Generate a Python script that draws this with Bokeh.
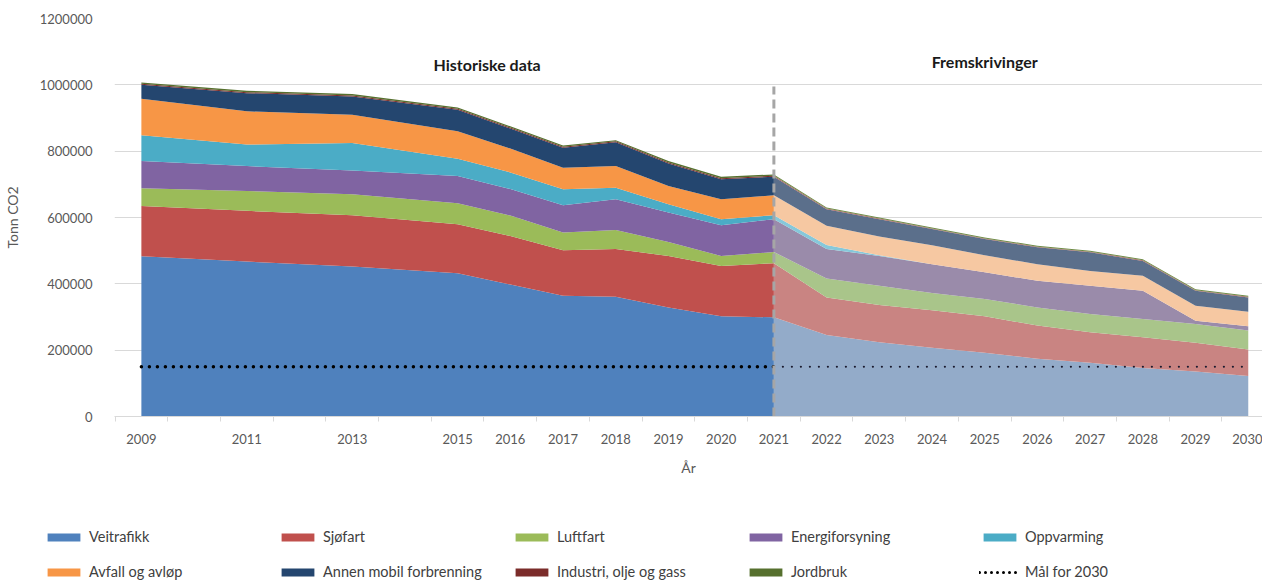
from bokeh.plotting import figure
from bokeh.layouts import column, row
from bokeh.models import (ColumnDataSource, Legend, LegendItem, FixedTicker, Label,
                          BasicTickFormatter, Range1d)
from bokeh.embed import file_html
from bokeh.resources import INLINE

sectors = ["Veitrafikk", "Sjøfart", "Luftfart", "Energiforsyning", "Oppvarming",
           "Avfall og avløp", "Annen mobil forbrenning", "Industri, olje og gass", "Jordbruk"]

# Historical data (tonn CO2)
hist_years = [2009, 2011, 2013, 2015, 2016, 2017, 2018, 2019, 2020, 2021]
hist_veitrafikk = [483000, 467000, 452000, 432000, 398000, 364000, 361000, 329000, 302000, 299000]
hist_sjofart = [152000, 153000, 155000, 148000, 146000, 137000, 144000, 155000, 152000, 163000]
hist_luftfart = [53000, 60000, 63000, 63000, 62000, 54000, 57000, 42000, 30000, 34000]
hist_energi = [82000, 75000, 72000, 82000, 80000, 82000, 93000, 89000, 93000, 99000]
hist_oppvarming = [78000, 65000, 83000, 52000, 50000, 48000, 35000, 25000, 18000, 12000]
hist_avfall = [110000, 100000, 85000, 83000, 72000, 65000, 65000, 55000, 60000, 60000]
hist_annen = [42000, 55000, 55000, 65000, 60000, 60000, 72000, 68000, 60000, 56000]
hist_industri = [3000, 3000, 3000, 3000, 3000, 3000, 3000, 3000, 3000, 3000]
hist_jordbruk = [4000, 4000, 4000, 4000, 4000, 4000, 3000, 4000, 5000, 4000]

# Projections (tonn CO2)
proj_years = [2021, 2022, 2023, 2024, 2025, 2026, 2027, 2028, 2029, 2030]
proj_veitrafikk = [299000, 246000, 224000, 207000, 192000, 174000, 162000, 146000, 136000, 122000]
proj_sjofart = [163000, 113000, 112000, 113000, 110000, 100000, 92000, 93000, 86000, 80000]
proj_luftfart = [34000, 57000, 58000, 52000, 52000, 55000, 55000, 55000, 57000, 57000]
proj_energi = [99000, 89000, 90000, 87000, 81000, 80000, 85000, 85000, 10000, 13000]
proj_oppvarming = [12000, 12000, 2000, 0, 0, 0, 0, 0, 0, 0]
proj_avfall = [60000, 58000, 57000, 57000, 51000, 50000, 45000, 45000, 45000, 44000]
proj_annen = [56000, 50000, 52000, 49000, 49000, 51000, 56000, 45000, 45000, 43000]
proj_industri = [3000, 2000, 2000, 2000, 2000, 2000, 2000, 2000, 2000, 2000]
proj_jordbruk = [4000, 3000, 3000, 3000, 3000, 3000, 3000, 3000, 3000, 3000]

target_2030 = 150000
split_year = 2021
tick_years = [2009, 2011, 2013, 2015, 2016, 2017, 2018, 2019, 2020, 2021, 2022,
              2023, 2024, 2025, 2026, 2027, 2028, 2029, 2030]

hist_colors = ["#4F81BD", "#C0504D", "#9BBB59", "#8064A2", "#4BACC6",
               "#F79646", "#24466F", "#7B2C2A", "#56702E"]
proj_colors = ["#93ABC9", "#C98482", "#A9C58A", "#9A8BAA", "#86C8DA",
               "#F6C8A2", "#5B6F8B", "#A85A58", "#6E8B45"]

keys = ["s%d" % i for i in range(len(sectors))]
hist_src = ColumnDataSource(dict(year=hist_years, **dict(zip(keys, [
    hist_veitrafikk, hist_sjofart, hist_luftfart, hist_energi, hist_oppvarming,
    hist_avfall, hist_annen, hist_industri, hist_jordbruk]))))
proj_src = ColumnDataSource(dict(year=proj_years, **dict(zip(keys, [
    proj_veitrafikk, proj_sjofart, proj_luftfart, proj_energi, proj_oppvarming,
    proj_avfall, proj_annen, proj_industri, proj_jordbruk]))))

FONT = "Lato"

p = figure(width=1262, height=478, output_backend="svg", toolbar_location=None,
           x_range=Range1d(2008.49, 2030.27), y_range=Range1d(0, 1200000),
           min_border_left=110, min_border_right=0, min_border_top=18, min_border_bottom=60)
p.outline_line_color = None
p.background_fill_color = "white"
p.border_fill_color = "white"

hist_r = p.varea_stack(stackers=keys, x="year", color=hist_colors, source=hist_src)
proj_r = p.varea_stack(stackers=keys, x="year", color=proj_colors, source=proj_src)

# target line
t_hist = p.line(x=[hist_years[0], split_year], y=[target_2030, target_2030], line_color="black",
                line_width=3.5, line_dash="0 8", line_cap="round")
t_proj = p.line(x=[split_year, proj_years[-1]], y=[target_2030, target_2030], line_color="#1a1a2e",
                line_width=2.2, line_dash="0 9", line_cap="round")

# split marker
p.segment(x0=[split_year], y0=[0], x1=[split_year], y1=[995000], line_color="#A6A6A6",
          line_width=3, line_dash="9 5")

p.add_layout(Label(x=2015.56, y=1060000, text="Historiske data", text_align="center",
                   text_baseline="middle", text_font=FONT, text_font_style="bold",
                   text_font_size="16px", text_color="#1a1a1a"))
p.add_layout(Label(x=2025.0, y=1069000, text="Fremskrivinger", text_align="center",
                   text_baseline="middle", text_font=FONT, text_font_style="bold",
                   text_font_size="16px", text_color="#1a1a1a"))

# axes
p.xgrid.grid_line_color = None
p.ygrid.grid_line_color = "#D9D9D9"
p.ygrid.level = "underlay"
p.yaxis.ticker = FixedTicker(ticks=[0, 200000, 400000, 600000, 800000, 1000000, 1200000])
p.yaxis.formatter = BasicTickFormatter(use_scientific=False)
p.yaxis.axis_line_color = None
p.yaxis.major_tick_line_color = None
p.yaxis.minor_tick_line_color = None
p.yaxis.major_label_standoff = 16
p.yaxis.axis_label = "Tonn CO2"
p.yaxis.axis_label_standoff = 16

p.xaxis.ticker = FixedTicker(ticks=tick_years,
                             minor_ticks=[y - 0.5 for y in range(2009, 2031)] + [2030.5])
p.xaxis.axis_line_color = "#D9D9D9"
p.xaxis.major_tick_out = 0
p.xaxis.major_tick_in = 0
p.xaxis.minor_tick_out = 5
p.xaxis.minor_tick_in = 0
p.xaxis.minor_tick_line_color = "#D9D9D9"
p.xaxis.major_label_standoff = 12
p.xaxis.axis_label = "År"
p.xaxis.axis_label_standoff = 12

for ax in (p.xaxis[0], p.yaxis[0]):
    ax.major_label_text_font = FONT
    ax.major_label_text_font_size = "13px"
    ax.major_label_text_color = "#595959"
    ax.axis_label_text_font = FONT
    ax.axis_label_text_font_size = "14px"
    ax.axis_label_text_color = "#595959"
    ax.axis_label_text_font_style = "normal"

# Legend strip below the chart (same colours / styles as the series)
lg = figure(width=1262, height=102, output_backend="svg", toolbar_location=None,
            x_range=Range1d(0, 1), y_range=Range1d(0, 1),
            min_border_left=0, min_border_right=0, min_border_top=0, min_border_bottom=0)
lg.axis.visible = False
lg.grid.grid_line_color = None
lg.outline_line_color = None

nan = float("nan")
items = []
for name, c in zip(sectors, hist_colors):
    r = lg.varea(x=[nan], y1=[nan], y2=[nan], fill_color=c)
    items.append(LegendItem(label=name, renderers=[r]))
rt = lg.line(x=[nan], y=[nan], line_color="black", line_width=3, line_dash="0 6", line_cap="round")
items.append(LegendItem(label="Mål for 2030", renderers=[rt]))

legend = Legend(items=items, location=(43, 0), orientation="horizontal", ncols=5,
                glyph_width=41, glyph_height=10, label_height=16, label_width=170,
                spacing=18, padding=0, margin=0, label_standoff=5,
                label_text_font=FONT, label_text_font_size="14.5px", label_text_color="#404040",
                border_line_color=None, background_fill_alpha=0)
lg.add_layout(legend)

layout = column(p, row(lg, spacing=0), spacing=0)
open("out.html", "w").write(file_html(layout, INLINE))
